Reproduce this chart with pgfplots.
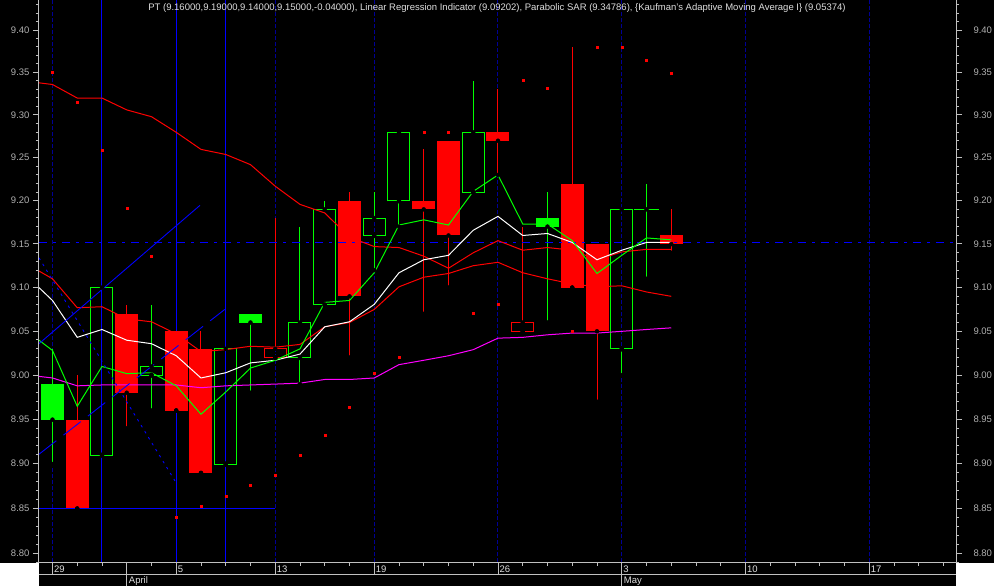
\documentclass[border=0pt]{standalone}
\usepackage{pgfplots}
\pgfplotsset{compat=1.18}
\usepackage{pgfplotstable}
\usepackage{fontspec}
\setmainfont{Liberation Sans}

\definecolor{cgreen}{RGB}{0,255,0}
\definecolor{cred}{RGB}{255,0,0}
\definecolor{cmag}{RGB}{255,0,255}
\definecolor{cblue}{RGB}{0,0,255}
\definecolor{cnavy}{RGB}{0,0,150}
\definecolor{cgrid}{RGB}{192,192,192}
\definecolor{ctick}{RGB}{176,176,176}
\definecolor{ctitle}{RGB}{222,222,222}

% price axis is logarithmic: plot 1000*ln(price)-2000
\newcommand{\T}[1]{(1000*ln(\thisrow{#1})-2000)}
\newcommand{\D}[2]{(1000*(ln(\thisrow{#1})-ln(\thisrow{#2})))}

% candles: day index, high, low, body top, body bottom
\pgfplotstableread{
i  hi   lo   top  bot
0  9.03 8.90 8.99 8.95
8  9.07 8.98 9.07 9.06
20 9.21 9.06 9.18 9.17
}\greenfilled
\pgfplotstableread{
i  hi   lo   top  bot
2  9.10 8.91 9.10 8.91
4  9.08 8.96 9.01 9.00
7  9.03 8.90 9.03 8.90
10 9.17 8.99 9.06 9.02
11 9.20 9.08 9.19 9.08
13 9.21 9.12 9.18 9.16
14 9.28 9.17 9.28 9.20
17 9.34 9.21 9.28 9.21
23 9.19 9.00 9.19 9.03
}\greenhollow
\pgfplotstableread{
i  hi   lo   top  bot
24 9.22 9.11 9.19 9.19
}\greendoji
\pgfplotstableread{
i  hi   lo   top  bot
1  9.00 8.85 8.95 8.85
3  9.08 8.94 9.07 8.98
5  9.05 8.96 9.05 8.96
6  9.05 8.89 9.03 8.89
12 9.21 9.02 9.20 9.09
15 9.26 9.07 9.20 9.19
16 9.27 9.10 9.27 9.16
18 9.33 9.23 9.28 9.27
21 9.38 9.10 9.22 9.10
22 9.15 8.97 9.15 9.05
25 9.19 9.14 9.16 9.15
}\redfilled
\pgfplotstableread{
i  hi   lo   top  bot
9  9.18 9.02 9.03 9.02
19 9.17 9.05 9.06 9.05
}\redhollow

% indicator lines
\pgfplotstableread{
i      kama  lri   fast  upper lower
-0.545 8.999 9.100 9.040 9.338 9.119
0      8.997 9.085 9.028 9.336 9.110
1      8.988 9.043 8.965 9.320 9.077
2      8.989 9.052 9.010 9.320 9.078
3      8.989 9.040 9.002 9.306 9.064
4      8.989 9.036 9.003 9.298 9.061
5      8.989 9.022 8.988 9.280 9.047
6      8.986 8.997 8.956 9.260 9.027
7      8.988 9.003 8.981 9.254 9.029
8      8.989 9.014 9.008 9.242 9.033
9      8.990 9.017 9.017 9.217 9.032
10     8.991 9.024 9.030 9.196 9.035
11     8.995 9.055 9.083 9.186 9.055
12     8.995 9.061 9.085 9.158 9.060
13     8.997 9.081 9.117 9.147 9.075
14     9.012 9.117 9.172 9.146 9.101
15     9.017 9.132 9.178 9.136 9.112
16     9.022 9.137 9.172 9.122 9.116
17     9.029 9.166 9.211 9.140 9.125
18     9.042 9.182 9.230 9.154 9.129
19     9.043 9.160 9.173 9.143 9.117
20     9.046 9.162 9.173 9.146 9.110
21     9.048 9.152 9.154 9.143 9.104
22     9.048 9.132 9.116 9.132 9.101
23     9.050 9.143 9.137 9.141 9.102
24     9.052 9.152 9.157 9.144 9.095
25     9.054 9.152 9.155 9.144 9.090
}\ind

% parabolic SAR
\pgfplotstableread{
i  sar
0  9.351
1  9.315
2  9.259
3  9.192
4  9.136
5  8.840
6  8.853
7  8.864
8  8.876
9  8.887
10 8.910
11 8.932
12 8.964
13 9.003
14 9.020
15 9.280
16 9.280
17 9.071
18 9.081
19 9.341
20 9.331
21 9.050
22 9.380
23 9.380
24 9.364
25 9.349
}\sar

\pgfplotsset{
  vbar/.style 2 args={only marks, mark=none, forget plot,
    error bars/.cd, y dir=plus, y explicit, error mark=none,
    error bar style={draw=#1, line width=#2}},
}

\begin{document}
\begin{tikzpicture}[x=1pt,y=1pt]
\useasboundingbox (-39,-23) rectangle (955,563);
\fill[black] (-39,-23) rectangle (955,563);
\fill[white] (-39,-23) rectangle (0,0);
\fill[white] (917,-23) rectangle (955,0);

\begin{axis}[
    at={(0,0)}, anchor=south west,
    scale only axis, width=917pt, height=563pt,
    xmin=-0.545, xmax=36.505,
    ymin=173.531, ymax=244.491,
    axis line style={draw=none},
    xtick=\empty,
    ytick={174.752,180.417,186.051,191.654,197.225,202.765,208.274,213.754,219.203,224.624,230.014,235.376,240.710},
    yticklabels={8.80,8.85,8.90,8.95,9.00,9.05,9.10,9.15,9.20,9.25,9.30,9.35,9.40},
    minor ytick={173.615,175.888,177.022,178.155,179.287,181.546,182.675,183.802,184.927,
      187.174,188.296,189.416,190.536,192.770,193.886,195.000,196.113,
      198.335,199.444,200.552,201.659,203.869,204.972,206.074,207.175,
      209.373,210.470,211.566,212.661,214.846,215.937,217.027,218.116,
      220.290,221.375,222.459,223.542,225.704,226.783,227.862,228.939,
      231.089,232.163,233.235,234.306,236.445,237.513,238.580,239.645,
      241.773,242.835,243.896},
    ytick pos=left,
    tick align=outside,
    major tick length=6pt, minor tick length=3pt,
    every tick/.style={cgrid, line width=0.8pt},
    yticklabel style={font=\fontsize{9.5}{11}\selectfont, text=ctick},
    clip=true,
]
  % hollow bodies: coloured frame, black inside
  \addplot[vbar={cgreen}{23pt}] table[x=i, y expr=\T{bot}-0.063, y error expr=\D{top}{bot}+0.126] {\greenhollow};
  \addplot[vbar={black}{21pt}] table[x=i, y expr=\T{bot}+0.063, y error expr=\D{top}{bot}-0.126] {\greenhollow};
  \addplot[vbar={cred}{23pt}] table[x=i, y expr=\T{bot}-0.063, y error expr=\D{top}{bot}+0.126] {\redhollow};
  \addplot[vbar={black}{21pt}] table[x=i, y expr=\T{bot}+0.063, y error expr=\D{top}{bot}-0.126] {\redhollow};

  % week separators and cycle lines
  \pgfplotsinvokeforeach{0,9,13,18,23,28,33}{
    \addplot[cnavy, line width=1pt, dash pattern=on 4pt off 2pt, forget plot]
      coordinates {(#1,160) (#1,260)};
  }
  \pgfplotsinvokeforeach{2,5,7}{
    \addplot[cblue, line width=1pt, forget plot]
      coordinates {(#1,160) (#1,260)};
  }

  % wicks
  \addplot[vbar={cgreen}{1pt}] table[x=i, y expr=\T{lo}, y error expr=\D{hi}{lo}] {\greenfilled};
  \addplot[vbar={cred}{1pt}] table[x=i, y expr=\T{lo}, y error expr=\D{hi}{lo}] {\redfilled};
  \addplot[vbar={cgreen}{1pt}] table[x=i, y expr=\T{lo}, y error expr=\D{hi}{lo}] {\greendoji};
  \addplot[vbar={cgreen}{1pt}] table[x=i, y expr=\T{lo}, y error expr=\D{bot}{lo}] {\greenhollow};
  \addplot[vbar={cgreen}{1pt}] table[x=i, y expr=\T{top}, y error expr=\D{hi}{top}] {\greenhollow};
  \addplot[vbar={cred}{1pt}] table[x=i, y expr=\T{lo}, y error expr=\D{bot}{lo}] {\redhollow};
  \addplot[vbar={cred}{1pt}] table[x=i, y expr=\T{top}, y error expr=\D{hi}{top}] {\redhollow};

  % filled bodies
  \addplot[vbar={cgreen}{23pt}] table[x=i, y expr=\T{bot}, y error expr=\D{top}{bot}] {\greenfilled};
  \addplot[vbar={cred}{23pt}] table[x=i, y expr=\T{bot}, y error expr=\D{top}{bot}] {\redfilled};

  % doji
  \addplot[only marks, mark=none, forget plot, error bars/.cd, x dir=both, x fixed=0.5,
    error mark=none, error bar style={draw=cgreen, line width=1pt}]
    table[x=i, y expr=\T{top}] {\greendoji};

  % horizontal levels
  \addplot[cblue, line width=1.2pt, forget plot] table[x=i, y expr=\T{v}] {
    i      v
    -0.545 8.85
    9      8.85
  };
  \addplot[cblue, line width=1.5pt, dash pattern=on 8pt off 6pt on 3pt off 6pt, forget plot]
    table[x=i, y expr=\T{v}] {
    i      v
    -0.545 9.152
    36.505 9.152
  };

  % indicators
  \addplot[cmag, line width=1pt] table[x=i, y expr=\T{kama}] {\ind};
  \addplot[cred, line width=1pt] table[x=i, y expr=\T{upper}] {\ind};
  \addplot[cred, line width=1pt] table[x=i, y expr=\T{lower}] {\ind};
  \addplot[white, line width=1pt] table[x=i, y expr=\T{lri}] {\ind};
  \addplot[cgreen, line width=1pt] table[x=i, y expr=\T{fast}] {\ind};

  % trend lines
  \addplot[cblue, line width=0.9pt] table[x=i, y expr=\T{v}] {
    i      v
    -0.545 9.036
    5.96   9.195
  };
  \addplot[cblue, line width=0.9pt, dash pattern=on 22pt off 9pt] table[x=i, y expr=\T{v}] {
    i      v
    -0.545 8.911
    6.96   9.075
  };
  \addplot[cblue, line width=0.9pt, dash pattern=on 2.5pt off 4.5pt] table[x=i, y expr=\T{v}] {
    i      v
    -0.545 9.134
    4.95   8.881
  };

  % parabolic SAR
  \addplot[only marks, mark=square*, mark size=1pt, mark options={draw=cred, fill=cred}]
    table[x=i, y expr=\T{sar}] {\sar};
\end{axis}

\begin{axis}[
    at={(0,0)}, anchor=south west,
    scale only axis, width=917pt, height=563pt,
    xmin=-0.545, xmax=36.505,
    ymin=173.531, ymax=244.491,
    axis line style={draw=none},
    xtick=\empty,
    ytick={174.752,180.417,186.051,191.654,197.225,202.765,208.274,213.754,219.203,224.624,230.014,235.376,240.710},
    yticklabels={8.80,8.85,8.90,8.95,9.00,9.05,9.10,9.15,9.20,9.25,9.30,9.35,9.40},
    minor ytick={173.615,175.888,177.022,178.155,179.287,181.546,182.675,183.802,184.927,
      187.174,188.296,189.416,190.536,192.770,193.886,195.000,196.113,
      198.335,199.444,200.552,201.659,203.869,204.972,206.074,207.175,
      209.373,210.470,211.566,212.661,214.846,215.937,217.027,218.116,
      220.290,221.375,222.459,223.542,225.704,226.783,227.862,228.939,
      231.089,232.163,233.235,234.306,236.445,237.513,238.580,239.645,
      241.773,242.835,243.896},
    ytick pos=right, yticklabel pos=right,
    tick align=outside,
    major tick length=6pt, minor tick length=3pt,
    every tick/.style={cgrid, line width=0.8pt},
    yticklabel style={font=\fontsize{9.5}{11}\selectfont, text=ctick, xshift=8pt},
]
  \addplot[draw=none, forget plot] coordinates {(0,200) (1,201)};
\end{axis}

% axis frame
\draw[cgrid, line width=1pt] (0,0) -- (0,563);
\draw[cgrid, line width=1pt] (917,0) -- (917,563);
\draw[cgrid, line width=1pt] (0,0) -- (917,0);
\draw[cgrid, line width=1pt] (0,-12) -- (917,-12);

% date bar
\foreach \d in {0,...,36}
  \draw[cgrid, line width=0.8pt] ({(\d+0.545)*24.75},0) -- ++(0,-3.5);
\foreach \d/\l in {0/29,5/5,9/13,13/19,18/26,23/3,28/10,33/17} {
  \draw[cgrid, line width=0.8pt] ({(\d+0.545)*24.75},0) -- ++(0,-12);
  \node[anchor=base west, inner sep=0pt, text=ctitle, font=\fontsize{9.5}{11}\selectfont]
    at ({(\d+0.545)*24.75+1.5},-9.8) {\l};
}
\foreach \d/\l in {3/April,23/May} {
  \draw[cgrid, line width=0.8pt] ({(\d+0.545)*24.75},0) -- ++(0,-23);
  \node[anchor=base west, inner sep=0pt, text=ctitle, font=\fontsize{9.5}{11}\selectfont]
    at ({(\d+0.545)*24.75+2},-20.8) {\l};
}

% title
\node[anchor=base, inner sep=0pt, text=ctitle, font=\fontsize{9.5}{11}\selectfont] at (458,552.5)
  {PT (9.16000,9.19000,9.14000,9.15000,-0.04000), Linear Regression Indicator (9.09202), Parabolic SAR (9.34786), \{Kaufman's Adaptive Moving Average I\} (9.05374)};
\end{tikzpicture}
\end{document}
